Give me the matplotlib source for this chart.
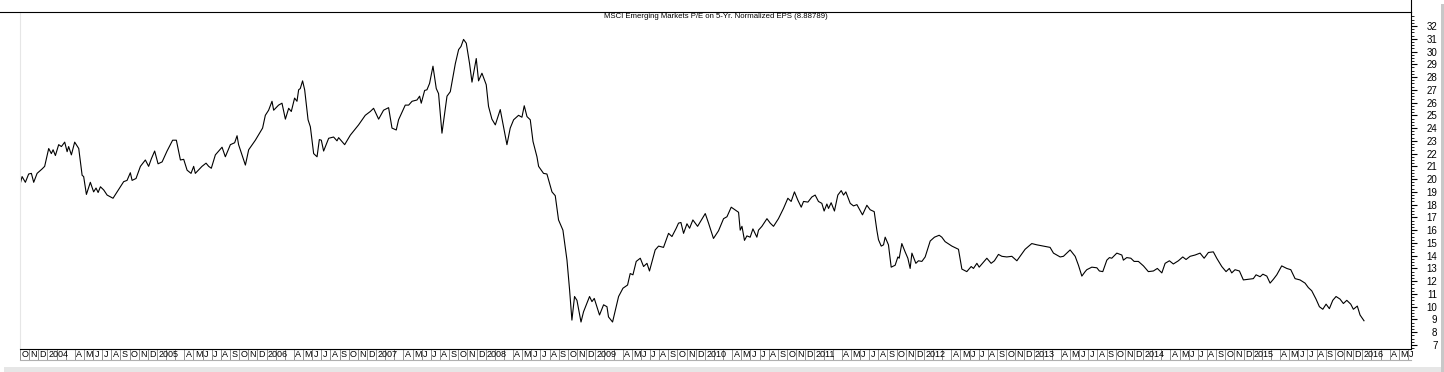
import numpy as np
import matplotlib.pyplot as plt
from matplotlib.lines import Line2D
from matplotlib.patches import Rectangle

plt.rcParams['font.family'] = ['Liberation Sans Narrow', 'Liberation Sans', 'DejaVu Sans']

# weekly-ish P/E readings, x in decimal years
t_year = [
    2003.754, 2003.769, 2003.799, 2003.829, 2003.854, 2003.875, 2003.906, 2003.952, 2003.975,
    2004.012, 2004.036, 2004.052, 2004.073, 2004.103, 2004.128, 2004.158, 2004.180, 2004.194,
    2004.219, 2004.249, 2004.286, 2004.317, 2004.331, 2004.356, 2004.392, 2004.422, 2004.444,
    2004.463, 2004.484, 2004.514, 2004.545, 2004.599, 2004.636, 2004.696, 2004.727, 2004.757,
    2004.773, 2004.809, 2004.849, 2004.894, 2004.924, 2004.949, 2004.979, 2005.010, 2005.047,
    2005.092, 2005.143, 2005.177, 2005.214, 2005.244, 2005.275, 2005.311, 2005.335, 2005.350,
    2005.411, 2005.448, 2005.472, 2005.496, 2005.533, 2005.594, 2005.624, 2005.670, 2005.709,
    2005.731, 2005.745, 2005.807, 2005.837, 2005.898, 2005.964, 2005.989, 2006.019, 2006.050,
    2006.065, 2006.110, 2006.141, 2006.172, 2006.202, 2006.226, 2006.256, 2006.278, 2006.293,
    2006.308, 2006.329, 2006.348, 2006.379, 2006.400, 2006.430, 2006.461, 2006.482, 2006.500,
    2006.521, 2006.567, 2006.612, 2006.643, 2006.658, 2006.713, 2006.765, 2006.840, 2006.901,
    2006.947, 2006.977, 2007.023, 2007.068, 2007.114, 2007.145, 2007.184, 2007.205, 2007.266,
    2007.297, 2007.328, 2007.373, 2007.397, 2007.412, 2007.443, 2007.464, 2007.488, 2007.519,
    2007.549, 2007.570, 2007.601, 2007.647, 2007.677, 2007.723, 2007.753, 2007.775, 2007.798,
    2007.823, 2007.853, 2007.875, 2007.914, 2007.935, 2007.966, 2008.005, 2008.026, 2008.057,
    2008.088, 2008.133, 2008.194, 2008.224, 2008.255, 2008.300, 2008.331, 2008.352, 2008.377,
    2008.407, 2008.432, 2008.468, 2008.483, 2008.528, 2008.559, 2008.605, 2008.635, 2008.665,
    2008.705, 2008.742, 2008.766, 2008.787, 2008.811, 2008.833, 2008.870, 2008.893, 2008.948,
    2008.970, 2008.991, 2009.039, 2009.076, 2009.107, 2009.121, 2009.158, 2009.213, 2009.253,
    2009.295, 2009.319, 2009.344, 2009.374, 2009.411, 2009.441, 2009.472, 2009.495, 2009.547,
    2009.578, 2009.623, 2009.669, 2009.700, 2009.739, 2009.760, 2009.782, 2009.806, 2009.837,
    2009.861, 2009.891, 2009.934, 2010.004, 2010.034, 2010.079, 2010.125, 2010.171, 2010.202,
    2010.241, 2010.308, 2010.323, 2010.339, 2010.362, 2010.384, 2010.414, 2010.439, 2010.475,
    2010.490, 2010.521, 2010.567, 2010.597, 2010.627, 2010.672, 2010.718, 2010.758, 2010.788,
    2010.818, 2010.849, 2010.880, 2010.901, 2010.941, 2010.977, 2011.007, 2011.037, 2011.068,
    2011.089, 2011.114, 2011.129, 2011.153, 2011.183, 2011.214, 2011.245, 2011.266, 2011.287,
    2011.327, 2011.357, 2011.388, 2011.439, 2011.479, 2011.509, 2011.546, 2011.570, 2011.585,
    2011.610, 2011.631, 2011.646, 2011.676, 2011.701, 2011.737, 2011.762, 2011.774, 2011.798,
    2011.828, 2011.853, 2011.874, 2011.890, 2011.926, 2011.950, 2011.981, 2012.011, 2012.057,
    2012.096, 2012.139, 2012.163, 2012.193, 2012.255, 2012.315, 2012.346, 2012.391, 2012.431,
    2012.452, 2012.483, 2012.504, 2012.574, 2012.613, 2012.643, 2012.680, 2012.711, 2012.756,
    2012.802, 2012.848, 2012.923, 2012.984, 2013.030, 2013.090, 2013.151, 2013.182, 2013.213,
    2013.243, 2013.273, 2013.334, 2013.380, 2013.410, 2013.441, 2013.471, 2013.486, 2013.532,
    2013.578, 2013.601, 2013.632, 2013.669, 2013.693, 2013.714, 2013.760, 2013.806, 2013.820,
    2013.851, 2013.888, 2013.918, 2013.957, 2014.003, 2014.048, 2014.094, 2014.130, 2014.171,
    2014.201, 2014.240, 2014.276, 2014.322, 2014.362, 2014.392, 2014.429, 2014.474, 2014.520,
    2014.557, 2014.596, 2014.641, 2014.672, 2014.718, 2014.757, 2014.787, 2014.809, 2014.839,
    2014.879, 2014.915, 2014.961, 2015.006, 2015.031, 2015.068, 2015.093, 2015.129, 2015.159,
    2015.189, 2015.220, 2015.265, 2015.311, 2015.348, 2015.387, 2015.432, 2015.478, 2015.508,
    2015.539, 2015.578, 2015.609, 2015.640, 2015.670, 2015.700, 2015.731, 2015.761, 2015.797,
    2015.828, 2015.859, 2015.895, 2015.919, 2015.955, 2015.980, 2016.016,
]
pe = [
    19.7, 20.2, 19.75, 20.4, 20.45, 19.75, 20.45, 20.8, 21.0,
    22.4, 22.0, 22.3, 21.85, 22.7, 22.55, 22.9, 22.15, 22.55,
    21.9, 22.9, 22.4, 20.3, 20.2, 18.8, 19.75, 19.0, 19.3,
    18.95, 19.4, 19.15, 18.75, 18.5, 19.0, 19.8, 19.9, 20.5,
    19.9, 20.05, 21.0, 21.5, 21.0, 21.6, 22.2, 21.2, 21.35,
    22.2, 23.05, 23.05, 21.5, 21.55, 20.7, 20.45, 21.0, 20.45,
    21.0, 21.25, 21.0, 20.85, 21.9, 22.5, 21.75, 22.7, 22.85,
    23.4, 22.7, 21.1, 22.3, 23.05, 24.0, 25.0, 25.4, 26.1,
    25.4, 25.8, 25.95, 24.7, 25.55, 25.3, 26.35, 26.1, 27.0,
    27.1, 27.7, 27.0, 24.65, 24.1, 22.0, 21.75, 23.1, 23.05,
    22.2, 23.2, 23.3, 23.0, 23.25, 22.7, 23.45, 24.25, 25.0,
    25.3, 25.55, 24.7, 25.4, 25.6, 24.0, 23.85, 24.65, 25.8,
    25.8, 26.1, 26.2, 26.5, 25.95, 26.95, 27.0, 27.5, 28.85,
    27.1, 26.7, 23.6, 26.5, 26.85, 29.05, 30.15, 30.4, 30.95,
    30.65, 29.05, 27.6, 29.45, 27.7, 28.3, 27.4, 25.7, 24.7,
    24.25, 25.45, 22.7, 24.0, 24.65, 25.0, 24.85, 25.75, 24.9,
    24.65, 22.95, 21.75, 21.0, 20.45, 20.4, 19.0, 18.7, 16.8,
    16.0, 13.65, 11.3, 8.95, 10.8, 10.5, 8.8, 9.6, 10.8,
    10.4, 10.65, 9.35, 10.15, 10.0, 9.2, 8.8, 10.8, 11.45,
    11.7, 12.6, 12.5, 13.55, 13.8, 13.15, 13.4, 12.8, 14.45,
    14.75, 14.65, 15.75, 15.5, 16.15, 16.55, 16.6, 15.75, 16.5,
    16.15, 16.8, 16.3, 17.3, 16.55, 15.35, 15.95, 16.9, 17.05,
    17.8, 17.4, 16.0, 16.3, 15.2, 15.55, 15.45, 16.1, 15.45,
    16.0, 16.3, 16.9, 16.55, 16.3, 16.9, 17.7, 18.5, 18.25,
    19.0, 18.35, 17.8, 18.25, 18.2, 18.6, 18.75, 18.25, 18.1,
    17.5, 18.05, 17.7, 18.15, 17.5, 18.75, 19.1, 18.75, 19.0,
    18.1, 17.9, 18.0, 17.2, 17.95, 17.6, 17.45, 16.0, 15.25,
    14.75, 14.85, 15.45, 14.85, 13.1, 13.25, 13.9, 13.8, 14.95,
    14.3, 13.8, 13.0, 14.2, 13.4, 13.6, 13.55, 13.9, 15.15,
    15.45, 15.6, 15.45, 15.1, 14.75, 14.5, 12.95, 12.75, 13.15,
    13.0, 13.4, 13.1, 13.8, 13.4, 13.6, 14.1, 13.95, 13.9,
    13.95, 13.6, 14.5, 14.95, 14.85, 14.75, 14.65, 14.2, 14.05,
    13.9, 13.95, 14.45, 13.95, 13.25, 12.4, 12.75, 12.9, 13.1,
    13.05, 12.8, 12.75, 13.65, 13.85, 13.8, 14.2, 14.05, 13.65,
    13.85, 13.8, 13.55, 13.55, 13.2, 12.75, 12.8, 13.0, 12.65,
    13.4, 13.6, 13.35, 13.6, 13.9, 13.7, 13.95, 14.05, 14.2,
    13.8, 14.25, 14.3, 13.8, 13.15, 12.75, 13.0, 12.65, 12.9,
    12.8, 12.1, 12.15, 12.2, 12.5, 12.35, 12.55, 12.4, 11.85,
    12.15, 12.5, 13.2, 13.0, 12.9, 12.2, 12.1, 11.85, 11.5,
    11.25, 10.6, 10.0, 9.8, 10.2, 9.85, 10.5, 10.8, 10.6,
    10.25, 10.5, 10.2, 9.8, 10.05, 9.35, 8.9,
]

title = "MSCI Emerging Markets P/E on 5-Yr. Normalized EPS (8.88789)"
month_letters = ["J", "F", "M", "A", "M", "J", "J", "A", "S", "O", "N", "D"]
y_ticks = list(range(7, 33))
x_start, x_end = 2003.75, 2016.445

W, H = 1444, 372
fig = plt.figure(figsize=(W / 100, H / 100), dpi=100)
ax = fig.add_axes([20 / W, 1 - 349 / H, 1391 / W, 337 / H])

ax.plot(t_year, pe, color='black', lw=0.8)
ax.set_xlim(x_start, x_end)
ax.set_ylim(6.686, 33.097)

# right hand value axis
ax.yaxis.tick_right()
ax.set_yticks(y_ticks)
ax.set_yticks(np.arange(6.75, 33.0, 0.25), minor=True)
ax.tick_params(axis='y', which='major', length=4, width=0.8, pad=15, labelsize=7, colors='black')
ax.tick_params(axis='y', which='minor', length=2, width=0.6)
for lbl in ax.get_yticklabels():
    lbl.set_horizontalalignment('right')
ax.set_xticks([])

ax.spines['top'].set_visible(False)
ax.spines['left'].set_color('#e6e6e6')
ax.spines['left'].set_linewidth(0.8)
ax.spines['right'].set_linewidth(0.8)
ax.spines['bottom'].set_linewidth(0.8)

# month cells under the plot
cell_h = 11 / 337
tr = ax.get_xaxis_transform()
for yr in range(2003, 2017):
    for m in range(1, 13):
        pos = yr + (m - 1) / 12
        if pos < x_start - 1e-6 or pos > x_end:
            continue
        ax.plot([pos, pos], [0, -cell_h], transform=tr, clip_on=False, color='#808080', lw=0.6)
        if m == 1:
            lab = str(yr)
        elif m in (2, 3):
            lab = ''
        else:
            lab = month_letters[m - 1]
        ax.text(pos + 0.012, -cell_h / 2, lab, transform=tr, ha='left', va='center', fontsize=6.5)
ax.plot([x_start, x_end], [-cell_h, -cell_h], transform=tr, clip_on=False, color='#b0b0b0', lw=0.8)

ax.text(0.5, 0.988, title, transform=ax.transAxes, ha='center', va='center', fontsize=5.6)

# top rule and spine above it
fig.add_artist(Line2D([0, 1411 / W], [1 - 11.5 / H] * 2, color='black', lw=0.8))
fig.add_artist(Line2D([1411 / W] * 2, [1 - 11.5 / H, 1], color='black', lw=0.8))

# drop shadow on the right / bottom
fig.add_artist(Rectangle((1441 / W, 0), 3 / W, 1 - 4 / H, transform=fig.transFigure, color='#c8c8c8', lw=0))
fig.add_artist(Rectangle((4 / W, 0), 1437 / W, 5 / H, transform=fig.transFigure, color='#e6e6e6', lw=0))

fig.savefig('out.png', dpi=100)
